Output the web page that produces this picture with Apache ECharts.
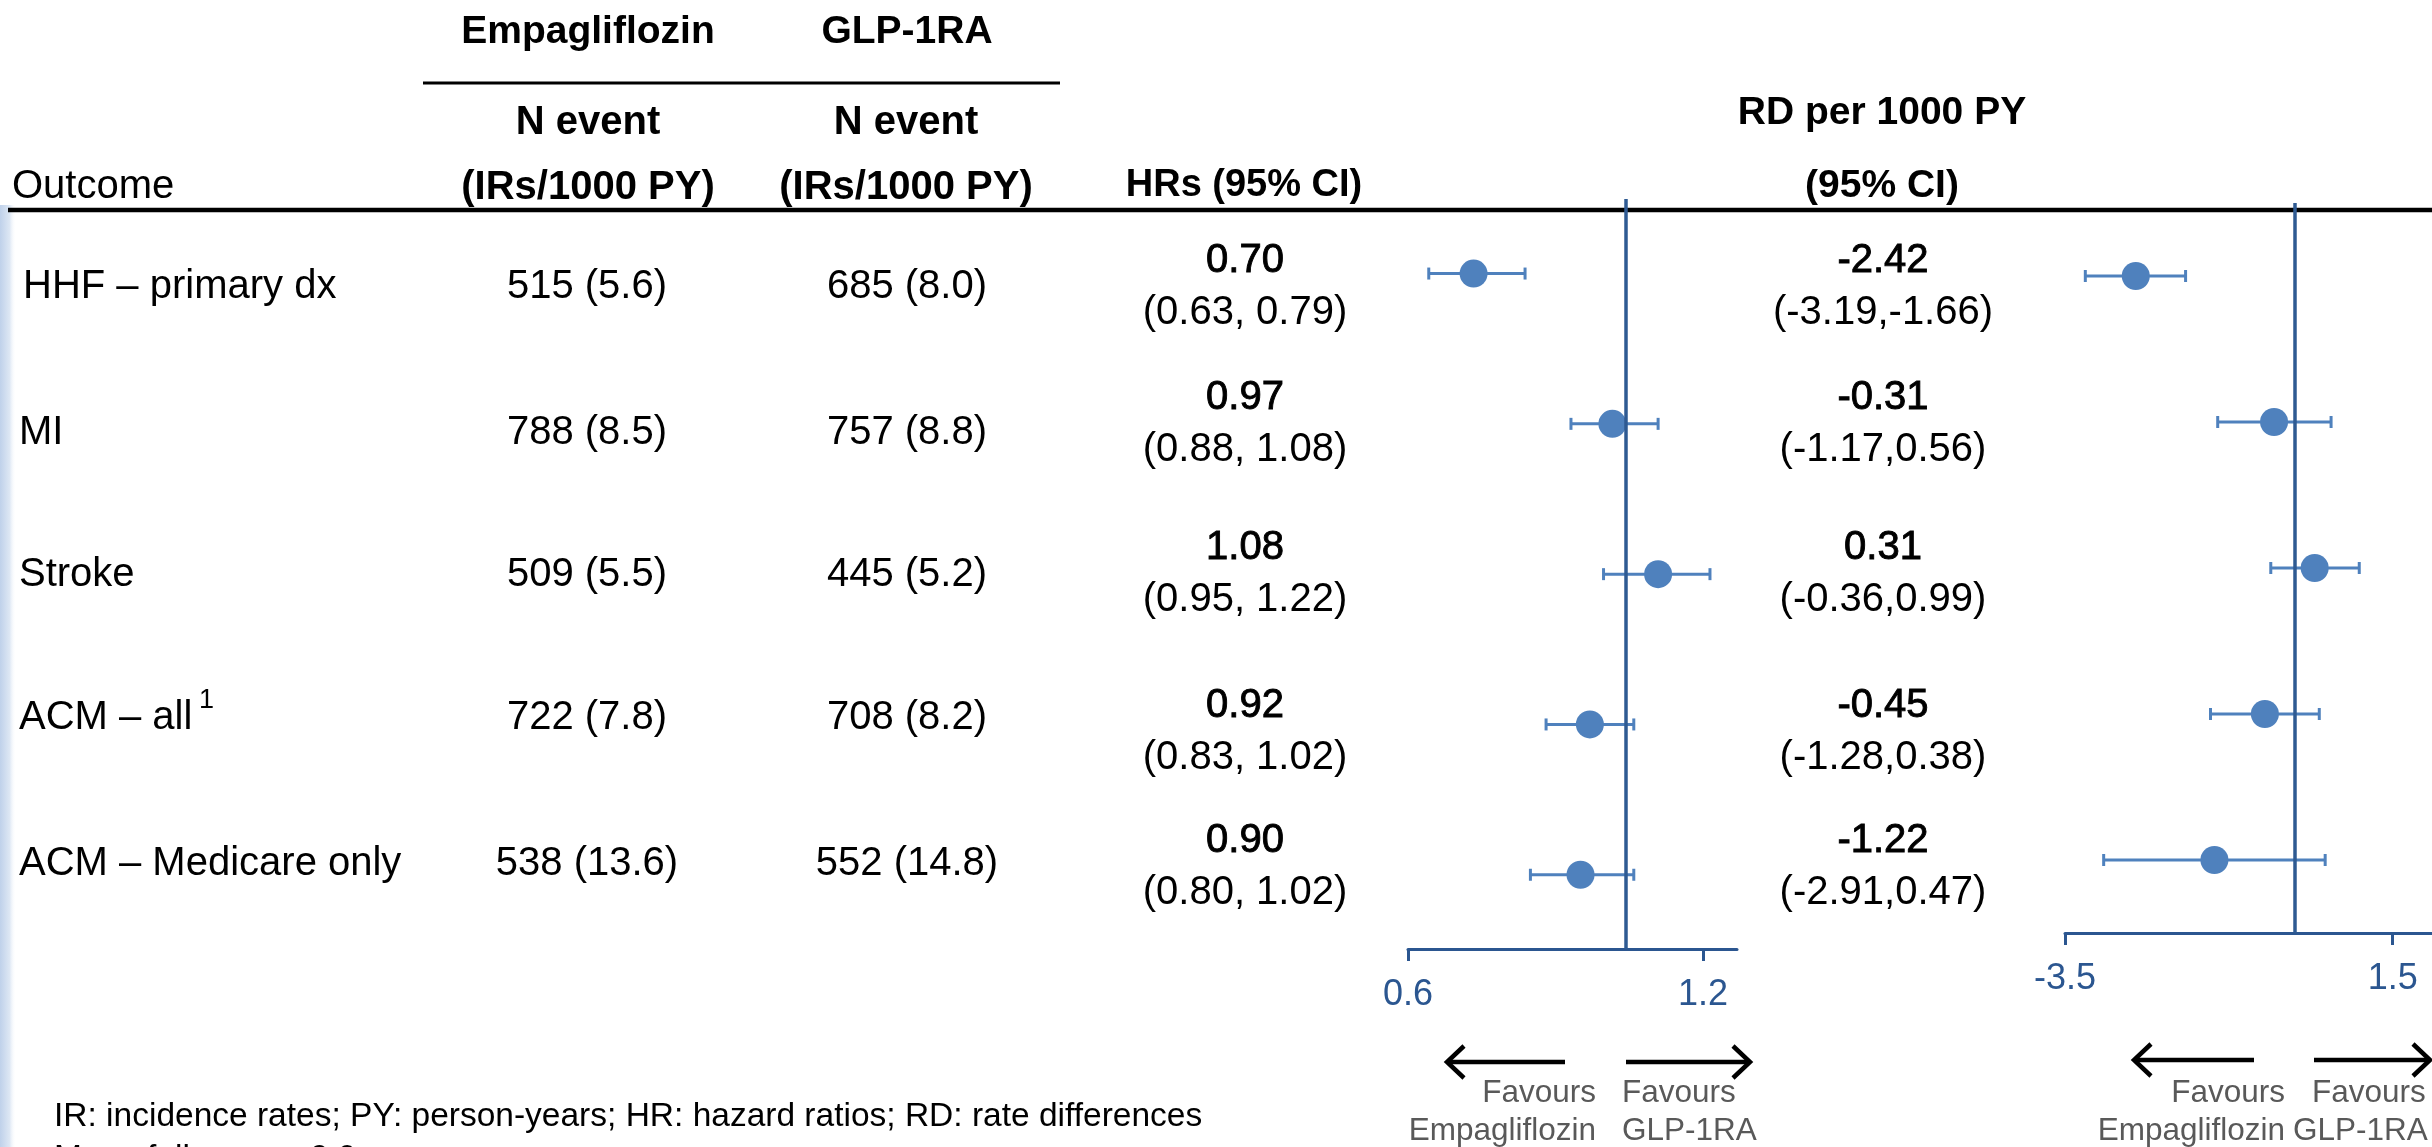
<!DOCTYPE html>
<html><head><meta charset="utf-8">
<script src="https://cdn.jsdelivr.net/npm/echarts@6/dist/echarts.min.js"></script>
<style>html,body{margin:0;padding:0;background:#fff;overflow:hidden}#c{width:2432px;height:1147px}</style>
</head><body><div id="c"></div>
<script>
// ---------- data ----------
const outcomes = ['HHF – primary dx', 'MI', 'Stroke', 'ACM – all', 'ACM – Medicare only'];
const empaN  = [515, 788, 509, 722, 538];
const empaIR = [5.6, 8.5, 5.5, 7.8, 13.6];
const glpN   = [685, 757, 445, 708, 552];
const glpIR  = [8.0, 8.8, 5.2, 8.2, 14.8];
const hr   = [0.70, 0.97, 1.08, 0.92, 0.90];
const hrLo = [0.63, 0.88, 0.95, 0.83, 0.80];
const hrHi = [0.79, 1.08, 1.22, 1.02, 1.02];
const rd   = [-2.42, -0.31, 0.31, -0.45, -1.22];
const rdLo = [-3.19, -1.17, -0.36, -1.28, -2.91];
const rdHi = [-1.66, 0.56, 0.99, 0.38, 0.47];
const hrTicks = [0.6, 1.2];
const rdTicks = [-3.5, 1.5];
const footnotes = ['IR: incidence rates; PY: person-years; HR: hazard ratios; RD: rate differences', 'Mean follow-up ~0.9 years'];

// ---------- layout (pixel rows of the text table) ----------
const labelRowY = [287, 433, 575, 718, 864];
const valueRowY = [261, 398, 548, 706, 841];

// ---------- style ----------
const FF = '"Liberation Sans", Arial, sans-serif';
const BLUE = '#4F81BD';
const DARK = '#2E5A92';
const AXC = '#2B5690';

const chart = echarts.init(document.getElementById('c'), null, {renderer: 'canvas'});

function errRender(params, api) {
  const lo = api.coord([api.value(0), api.value(2)]);
  const hi = api.coord([api.value(1), api.value(2)]);
  const c = 6;
  const st = {stroke: BLUE, lineWidth: 3};
  return {type: 'group', children: [
    {type: 'line', shape: {x1: lo[0], y1: lo[1], x2: hi[0], y2: hi[1]}, style: st},
    {type: 'line', shape: {x1: lo[0], y1: lo[1] - c, x2: lo[0], y2: lo[1] + c}, style: st},
    {type: 'line', shape: {x1: hi[0], y1: hi[1] - c, x2: hi[0], y2: hi[1] + c}, style: st}
  ]};
}

function txt(text, x, y, size, opts) {
  opts = opts || {};
  return {type: 'text', x: x, y: y, silent: true, z: 10,
    style: Object.assign({text: text, fill: opts.fill || '#000',
      font: (opts.weight || 'normal') + ' ' + size + 'px ' + FF,
      align: opts.align || 'center', verticalAlign: 'middle'}, opts.extra || {})};
}

const g = [];
// left light-blue strip
g.push({type: 'rect', shape: {x: 0, y: 205, width: 16, height: 942}, silent: true, z: 0,
  style: {fill: new echarts.graphic.LinearGradient(0, 0, 1, 0, [{offset: 0, color: '#bfd1ea'}, {offset: 0.6, color: '#dde7f4'}, {offset: 1, color: 'rgba(255,255,255,0)'}])}});
// header
const HB = {weight: 'bold'};
g.push(txt('Empagliflozin', 588, 32, 39, HB));
g.push(txt('GLP-1RA', 907, 32, 39, HB));
g.push({type: 'line', shape: {x1: 423, y1: 83, x2: 1060, y2: 83}, style: {stroke: '#000', lineWidth: 3}, silent: true});
g.push(txt('N event', 588, 123, 40, HB));
g.push(txt('(IRs/1000 PY)', 588, 188, 40, HB));
g.push(txt('N event', 906, 123, 40, HB));
g.push(txt('(IRs/1000 PY)', 906, 188, 40, HB));
g.push(txt('Outcome', 12, 187, 40, {align: 'left'}));
g.push(txt('HRs (95% CI)', 1244, 186, 38, HB));
g.push(txt('RD per 1000 PY', 1882, 113, 39, HB));
g.push(txt('(95% CI)', 1882, 186, 39, HB));
g.push({type: 'line', shape: {x1: 8, y1: 210, x2: 2432, y2: 210}, style: {stroke: '#000', lineWidth: 4.5}, silent: true, z: 1});

// rows
outcomes.forEach(function (o, i) {
  const yl = labelRowY[i];
  g.push(txt(o, i === 0 ? 23 : 19, yl, 40, {align: 'left'}));
  g.push(txt(empaN[i] + ' (' + empaIR[i].toFixed(1) + ')', 587, yl, 40));
  g.push(txt(glpN[i] + ' (' + glpIR[i].toFixed(1) + ')', 907, yl, 40));
  const y1 = valueRowY[i], y2 = valueRowY[i] + 52;
  const semi = {extra: {stroke: '#000', lineWidth: 0.9}};
  g.push(txt(hr[i].toFixed(2), 1245, y1, 40, semi));
  g.push(txt('(' + hrLo[i].toFixed(2) + ', ' + hrHi[i].toFixed(2) + ')', 1245, y2, 40));
  g.push(txt(rd[i].toFixed(2), 1883, y1, 40, semi));
  g.push(txt('(' + rdLo[i].toFixed(2) + ',' + rdHi[i].toFixed(2) + ')', 1883, y2, 40));
});
g.push(txt('1', 199, 701, 27, {align: 'left'}));

// favours arrows + text
function arrow(x1, x2, y) {
  const dir = x2 > x1 ? 1 : -1;
  const st = {stroke: '#000', lineWidth: 4.5, lineCap: 'butt', lineJoin: 'miter'};
  g.push({type: 'line', shape: {x1: x1, y1: y, x2: x2 - dir * 2, y2: y}, style: st, silent: true});
  g.push({type: 'polyline', shape: {points: [[x2 - dir * 17, y - 16], [x2, y], [x2 - dir * 17, y + 16]]}, style: Object.assign({fill: null}, st), silent: true});
}
arrow(1565, 1447, 1062);
arrow(1626, 1750, 1062);
arrow(2254, 2134, 1060);
arrow(2314, 2430, 1060);
const GR = '#595959';
g.push(txt('Favours', 1596, 1093, 31.5, {align: 'right', fill: GR}));
g.push(txt('Empagliflozin', 1596, 1131, 31.5, {align: 'right', fill: GR}));
g.push(txt('Favours', 1622, 1093, 31.5, {align: 'left', fill: GR}));
g.push(txt('GLP-1RA', 1622, 1131, 31.5, {align: 'left', fill: GR}));
g.push(txt('Favours', 2285, 1093, 31.5, {align: 'right', fill: GR}));
g.push(txt('Empagliflozin', 2285, 1131, 31.5, {align: 'right', fill: GR}));
g.push(txt('Favours', 2312, 1093, 31.5, {align: 'left', fill: GR}));
g.push(txt('GLP-1RA', 2293, 1131, 31.5, {align: 'left', fill: GR}));
// footnotes
g.push(txt(footnotes[0], 54, 1117, 33.5, {align: 'left'}));
g.push(txt(footnotes[1], 54, 1159, 33.5, {align: 'left'}));

function xAxisCfg(gi, min, max, ticks, fmt) {
  return {type: 'value', gridIndex: gi, min: min, max: max, position: 'bottom',
    axisLine: {show: true, onZero: false, lineStyle: {color: AXC, width: 3}},
    axisTick: {show: true, inside: false, length: 12, customValues: ticks, lineStyle: {color: AXC, width: 3}},
    axisLabel: {show: true, customValues: ticks, formatter: fmt, fontSize: 36, fontFamily: FF, color: AXC, margin: 28},
    splitLine: {show: false}};
}
function yAxisCfg(gi, min, max) {
  return {type: 'value', gridIndex: gi, inverse: true, min: min, max: max, show: false,
    axisLine: {onZero: false}, splitLine: {show: false}};
}

const option = {
  animation: false,
  backgroundColor: '#ffffff',
  grid: [
    {left: 1408, top: 199, width: 329, height: 750, containLabel: false, outerBoundsMode: 'none'},
    {left: 2065, top: 203, width: 367, height: 730, containLabel: false, outerBoundsMode: 'none'}
  ],
  xAxis: [
    xAxisCfg(0, Math.log(0.6) - 1e-9, Math.log(1.3), hrTicks.map(Math.log), function (v) { return Math.exp(v).toFixed(1); }),
    xAxisCfg(1, -3.5, 2.1, rdTicks, function (v) { return v.toFixed(1); })
  ],
  yAxis: [yAxisCfg(0, -0.496, 4.494), yAxisCfg(1, -0.5, 4.5)],
  series: [
    {type: 'custom', xAxisIndex: 0, yAxisIndex: 0, renderItem: errRender, z: 2, silent: true,
      encode: {x: [0, 1], y: 2},
      data: hr.map(function (v, i) { return [Math.log(hrLo[i]), Math.log(hrHi[i]), i]; })},
    {type: 'scatter', xAxisIndex: 0, yAxisIndex: 0, symbol: 'circle', symbolSize: 28, z: 3, silent: true,
      itemStyle: {color: BLUE, opacity: 1},
      data: hr.map(function (v, i) { return [Math.log(v), i]; })},
    {type: 'scatter', xAxisIndex: 0, yAxisIndex: 0, data: [], z: 4, silent: true,
      markLine: {silent: true, symbol: 'none', label: {show: false}, animation: false,
        lineStyle: {color: DARK, width: 3.5, type: 'solid'}, data: [{xAxis: Math.log(1)}]}},
    {type: 'custom', xAxisIndex: 1, yAxisIndex: 1, renderItem: errRender, z: 2, silent: true,
      encode: {x: [0, 1], y: 2},
      data: rd.map(function (v, i) { return [rdLo[i], rdHi[i], i]; })},
    {type: 'scatter', xAxisIndex: 1, yAxisIndex: 1, symbol: 'circle', symbolSize: 28, z: 3, silent: true,
      itemStyle: {color: BLUE, opacity: 1},
      data: rd.map(function (v, i) { return [v, i]; })},
    {type: 'scatter', xAxisIndex: 1, yAxisIndex: 1, data: [], z: 4, silent: true,
      markLine: {silent: true, symbol: 'none', label: {show: false}, animation: false,
        lineStyle: {color: DARK, width: 3.5, type: 'solid'}, data: [{xAxis: 0}]}}
  ],
  graphic: {elements: g}
};
chart.setOption(option);
</script>
</body></html>
